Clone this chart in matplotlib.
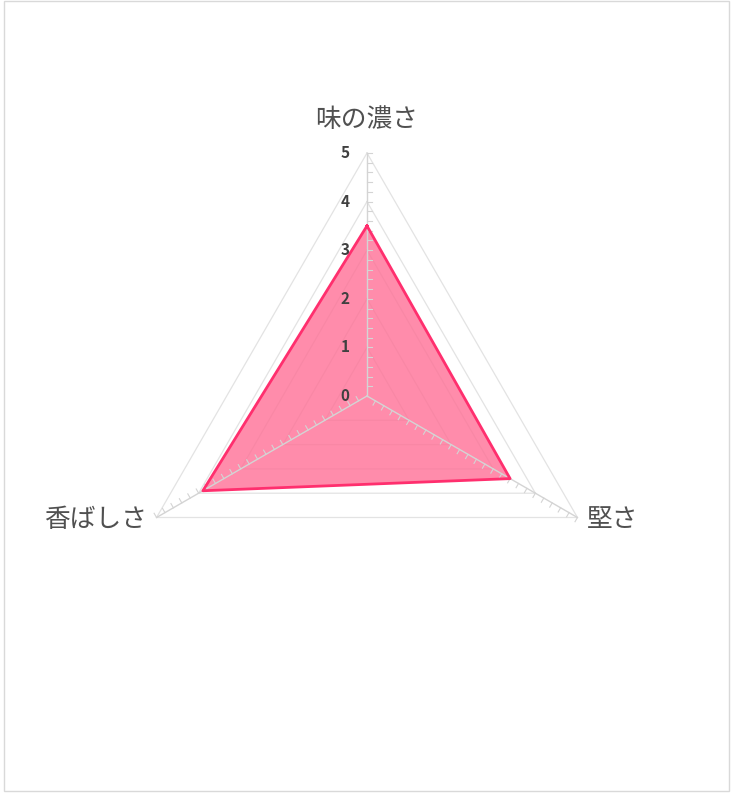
import matplotlib.pyplot as plt
import numpy as np
from matplotlib.patches import Rectangle

plt.rcParams['font.family'] = ['Noto Sans CJK JP', 'DejaVu Sans']

# data
categories = ["味の濃さ", "堅さ", "香ばしさ"]
values = [3.5, 3.4, 3.9]
levels = [0, 1, 2, 3, 4, 5]
r_max = 5

# axis angles, clockwise from top
angles = np.deg2rad([90, -30, 210])
ux = np.cos(angles)
uy = np.sin(angles)

fig = plt.figure(figsize=(7.34, 8), dpi=100)
ax = fig.add_axes([0, 0, 1, 1])
scale = 48.6  # px per unit
ax.set_xlim(-367 / scale, 367 / scale)
ax.set_ylim(-404 / scale, 396 / scale)
ax.axis("off")

# outer chart border
fig.patches.append(Rectangle((4 / 734, 9 / 800), 725 / 734, 790 / 800,
                             transform=fig.transFigure, fill=False,
                             edgecolor="#d9d9d9", linewidth=1.0))

grid_col = "#e3e3e3"
# level gridlines
for lv in levels[1:]:
    gx = np.append(lv * ux, lv * ux[0])
    gy = np.append(lv * uy, lv * uy[0])
    ax.plot(gx, gy, color=grid_col, lw=0.9, zorder=1)

# data polygon
px = np.array(values) * ux
py = np.array(values) * uy
ax.fill(px, py, color="#ff7096", alpha=0.8, lw=0, zorder=2)
ax.plot(np.append(px, px[0]), np.append(py, py[0]), color="#ff2f6e", lw=2.0, zorder=4)

# spokes with minor ticks
tick_len = 0.1
for i in range(3):
    ax.plot([0, r_max * ux[i]], [0, r_max * uy[i]], color="#d4d4d4", lw=1.0, zorder=3)
    nx, ny = uy[i], -ux[i]
    for t in np.arange(0.2, r_max + 0.01, 0.2):
        bx, by = t * ux[i], t * uy[i]
        ax.plot([bx, bx + tick_len * nx], [by, by + tick_len * ny],
                color="#d4d4d4", lw=0.8, zorder=3)

# radial labels
for lv in levels:
    ax.text(-0.45, lv, str(lv), ha="center", va="center", fontsize=11,
            fontweight="bold", color="#404040", zorder=5)

# category labels
ax.text(0, r_max + 0.68, categories[0], ha="center", va="center",
        fontsize=18.5, color="#505050")
ax.text(r_max * ux[1] + 0.2, r_max * uy[1] - 0.05, categories[1], ha="left",
        va="center", fontsize=18.5, color="#505050")
ax.text(r_max * ux[2] - 0.2, r_max * uy[2] - 0.05, categories[2], ha="right",
        va="center", fontsize=18.5, color="#505050")

fig.savefig("out.png", dpi=100, facecolor="white")
